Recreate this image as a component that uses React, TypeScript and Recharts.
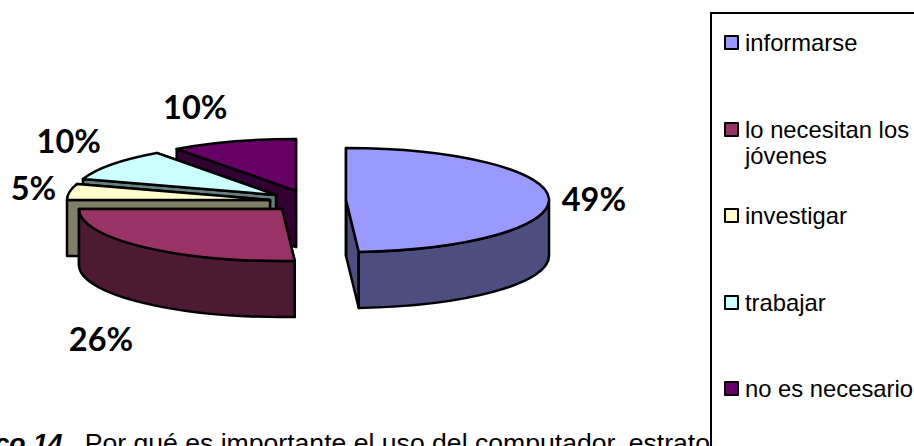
/**
 * Exploded 3D-look pie drawn with a Recharts Pie and a custom sector shape.
 */
import { PieChart, Pie, Legend } from 'recharts';

// --- DATA ---
const CATEGORIES = ['informarse', 'lo necesitan los jóvenes', 'investigar', 'trabajar', 'no es necesario'];
const VALUES = [49, 26, 5, 10, 10];
const COLORS = ['#9999ff', '#993366', '#ffffcc', '#ccffff', '#660066'];
const SIDE_COLORS = ['#4d4d80', '#4d1a33', '#808066', '#668080', '#330033'];

// --- LAYOUT ---
const PIE_CX = 290;
const PIE_CY = 197;
const RADIUS_X = 203;
const TILT = 52 / 203;
const DEPTH = 56;
// how far each slice is pulled away from the pie centre
const EXPLODE = [[56, 3], [-8, 12], [-20, 3], [-14, -2], [6, -6]];
// label position relative to the middle of the slice rim
const LABEL_NUDGE = [[45, 0], [-42, 92], [-36, -4], [-43, -24], [-38, -35]];

// draw back to front, so the slices go round the other way
const tableRows = CATEGORIES.map((name, i) => ({
  name,
  value: VALUES[i],
  fill: COLORS[i],
  idx: i,
})).reverse();

const rimPoint = (cx: number, cy: number, rx: number, deg: number) => {
  const rad = (deg * Math.PI) / 180;
  return [cx + rx * Math.cos(rad), cy - rx * TILT * Math.sin(rad)];
};

const Slice3D = (props: any) => {
  const { cx, cy, outerRadius, startAngle, endAngle, payload } = props;
  const i = payload.idx;
  const x = cx + EXPLODE[i][0];
  const y = cy + EXPLODE[i][1];
  const rx = outerRadius;
  const ry = outerRadius * TILT;
  const [sx, sy] = rimPoint(x, y, rx, startAngle);
  const [ex, ey] = rimPoint(x, y, rx, endAngle);
  const large = endAngle - startAngle > 180 ? 1 : 0;

  const top = `M${x},${y} L${sx},${sy} A${rx},${ry} 0 ${large} 0 ${ex},${ey} Z`;
  const face = (px: number, py: number) =>
    `M${x},${y} L${px},${py} L${px},${py + DEPTH} L${x},${y + DEPTH} Z`;

  // outer wall only on the front half of the ellipse
  const from = Math.max(startAngle, 180);
  const to = Math.min(endAngle, 360);
  let wall = null;
  if (to > from) {
    const [ax, ay] = rimPoint(x, y, rx, from);
    const [bx, by] = rimPoint(x, y, rx, to);
    wall = `M${ax},${ay} A${rx},${ry} 0 0 0 ${bx},${by} L${bx},${by + DEPTH} A${rx},${ry} 0 0 1 ${ax},${ay + DEPTH} Z`;
  }

  const common = { stroke: '#000', strokeWidth: 2.5, strokeLinejoin: 'round' as const };
  return (
    <g>
      <path d={face(sx, sy)} fill={SIDE_COLORS[i]} {...common} />
      <path d={face(ex, ey)} fill={SIDE_COLORS[i]} {...common} />
      {wall && <path d={wall} fill={SIDE_COLORS[i]} {...common} />}
      <path d={top} fill={COLORS[i]} {...common} />
    </g>
  );
};

const renderLabel = (props: any) => {
  const { cx, cy, outerRadius, midAngle, payload, value } = props;
  const i = payload.idx;
  const [mx, my] = rimPoint(cx + EXPLODE[i][0], cy + EXPLODE[i][1], outerRadius, midAngle);
  return (
    <text
      x={mx + LABEL_NUDGE[i][0]}
      y={my + LABEL_NUDGE[i][1]}
      textAnchor="middle"
      dominantBaseline="central"
      fontFamily="Lato, sans-serif"
      fontWeight="bold"
      fontSize={32.5}
      fill="#000"
    >
      {value}%
    </text>
  );
};

const renderLegend = () => (
  <div style={{ fontFamily: '"Liberation Sans", Arial, sans-serif', fontSize: 23.8, lineHeight: '26px', color: '#000' }}>
    {CATEGORIES.map((name, i) => (
      <div key={name} style={{ display: 'flex', height: 86.5, alignItems: 'flex-start' }}>
        <div
          style={{
            width: 11,
            height: 11,
            marginTop: 5,
            marginRight: 6,
            flex: 'none',
            border: '2px solid #000',
            borderRadius: 1,
            background: COLORS[i],
          }}
        />
        <div style={{ width: 172 }}>{name}</div>
      </div>
    ))}
  </div>
);

export default function App() {
  return (
    <div style={{ position: 'absolute', left: 0, top: 0, width: 914, height: 446, overflow: 'hidden', background: '#fff' }}>
      <div
        style={{
          position: 'absolute',
          right: 204,
          top: 427.5,
          whiteSpace: 'nowrap',
          fontFamily: '"Liberation Sans", Arial, sans-serif',
          fontSize: 26.6,
          color: '#000',
        }}
      >
        <b><i>Gráfico 14.</i></b>{'\u00a0\u00a0'}Por qué es importante el uso del computador, estrato
      </div>
      <div style={{ position: 'absolute', left: 0, top: 0 }}>
        <PieChart width={914} height={446} margin={{ top: 0, right: 0, bottom: 0, left: 0 }}>
          <Pie
            data={tableRows}
            dataKey="value"
            nameKey="name"
            cx={PIE_CX}
            cy={PIE_CY}
            innerRadius={0}
            outerRadius={RADIUS_X}
            startAngle={90}
            endAngle={450}
            shape={Slice3D}
            label={renderLabel}
            labelLine={false}
            isAnimationActive={false}
          />
          <Legend
            content={renderLegend}
            wrapperStyle={{
              position: 'absolute',
              left: 710,
              top: 12,
              bottom: 'auto',
              width: 230,
              height: 460,
              boxSizing: 'border-box',
              padding: '16px 0 0 12px',
              margin: 0,
              border: '2px solid #000',
              background: '#fff',
            }}
          />
        </PieChart>
      </div>
    </div>
  );
}
